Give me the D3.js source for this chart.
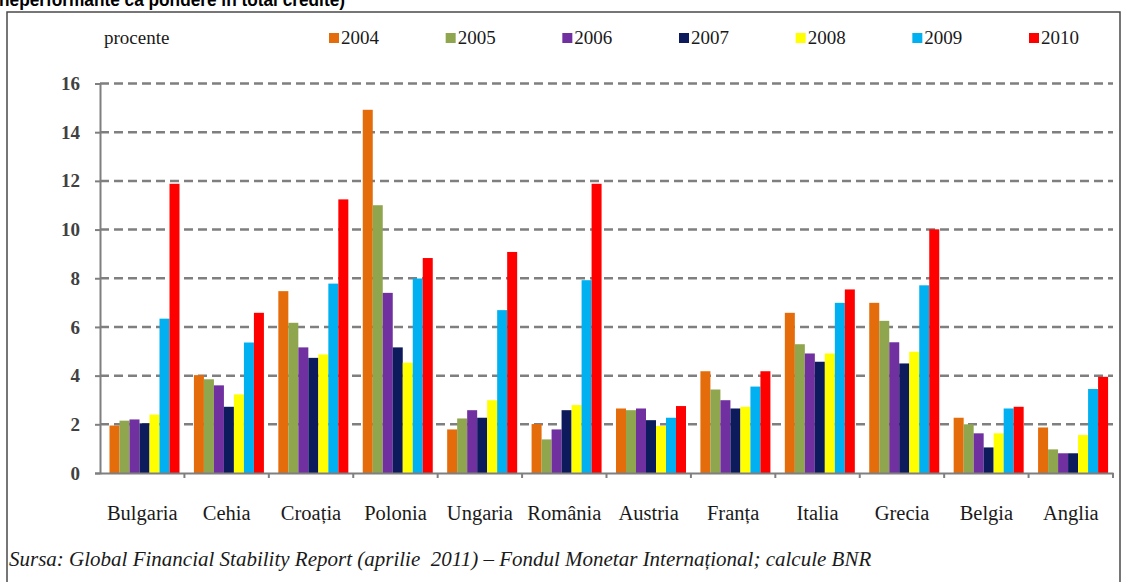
<!DOCTYPE html>
<html>
<head>
<meta charset="utf-8">
<script src="https://cdn.jsdelivr.net/npm/d3@7"></script>
<style>
  body { margin: 0; background: #fff; }
  svg { display: block; }
</style>
</head>
<body>
<div id="chart"></div>
<script>
// tari si ani
var countries = ['Bulgaria', 'Cehia', 'Croația', 'Polonia', 'Ungaria', 'România', 'Austria', 'Franța', 'Italia', 'Grecia', 'Belgia', 'Anglia'];
var years = ['2004', '2005', '2006', '2007', '2008', '2009', '2010'];
var yearColors = ['#e46c0a', '#8fa64f', '#7030a0', '#0d1a5c', '#ffff00', '#00b0f0', '#ff0000'];
var yTicks = [0, 2, 4, 6, 8, 10, 12, 14, 16];

// procente, cate o lista pe an (in ordinea tarilor)
var v2004 = [1.95, 4.02, 7.47, 14.92, 1.79, 2.01, 2.65, 4.18, 6.58, 6.99, 2.27, 1.87];
var v2005 = [2.15, 3.85, 6.17, 11.0, 2.24, 1.38, 2.58, 3.43, 5.29, 6.25, 2.0, 0.97];
var v2006 = [2.2, 3.6, 5.16, 7.4, 2.58, 1.79, 2.65, 2.99, 4.91, 5.37, 1.63, 0.81];
var v2007 = [2.04, 2.72, 4.73, 5.16, 2.27, 2.58, 2.17, 2.65, 4.57, 4.5, 1.05, 0.81];
var v2008 = [2.4, 3.23, 4.87, 4.53, 2.99, 2.79, 1.93, 2.72, 4.91, 4.98, 1.63, 1.56];
var v2009 = [6.34, 5.36, 7.78, 7.99, 6.69, 7.92, 2.27, 3.55, 6.99, 7.71, 2.65, 3.45];
var v2010 = [11.88, 6.58, 11.24, 8.83, 9.08, 11.88, 2.75, 4.18, 7.54, 10.01, 2.72, 3.95];
var series = [v2004, v2005, v2006, v2007, v2008, v2009, v2010];

var titleText = 'neperformante ca pondere în total credite)';
var sourceText = 'Sursa: Global Financial Stability Report (aprilie  2011) – Fondul Monetar Internațional; calcule BNR';

var W = 1125, H = 582;
var plotLeft = 100, plotRight = 1113, plotTop = 83.5, plotBottom = 473;

var svg = d3.select('#chart').append('svg')
  .attr('width', W)
  .attr('height', H);

svg.append('rect').attr('width', W).attr('height', H).attr('fill', '#fff');

// titlul (taiat sus)
svg.append('text')
  .attr('x', -1)
  .attr('y', 6)
  .attr('font-family', 'Liberation Sans, Arial, sans-serif')
  .attr('font-weight', 'bold')
  .attr('font-size', 18)
  .attr('textLength', 346)
  .attr('lengthAdjust', 'spacingAndGlyphs')
  .attr('fill', '#000')
  .text(titleText);

// rama
svg.append('path')
  .attr('d', 'M7,' + (H + 5) + 'V12H1120V' + (H + 5))
  .attr('fill', 'none')
  .attr('stroke', '#4a4a4a')
  .attr('stroke-width', 1.5);

var x = d3.scaleBand().domain(countries).range([plotLeft, plotRight]);
var xInner = d3.scaleBand().domain(years).range([9.5, 79.5]);
var y = d3.scaleLinear().domain([0, 16]).range([plotBottom, plotTop]);

// grila
svg.append('g')
  .selectAll('line')
  .data(yTicks.filter(function(d) { return d > 0; }))
  .enter()
  .append('line')
  .attr('x1', plotLeft)
  .attr('x2', plotRight)
  .attr('y1', function(d) { return y(d); })
  .attr('y2', function(d) { return y(d); })
  .attr('stroke', '#7f7f7f')
  .attr('stroke-width', 2.5)
  .attr('stroke-dasharray', '9,5');

// axa y
var yAxis = svg.append('g')
  .attr('transform', 'translate(' + plotLeft + ',0)')
  .call(d3.axisLeft(y).tickValues(yTicks).tickSize(5).tickPadding(15));
yAxis.select('.domain').attr('stroke', '#7f7f7f').attr('stroke-width', 2);
yAxis.selectAll('.tick line').attr('stroke', '#7f7f7f').attr('stroke-width', 2);
yAxis.selectAll('.tick text')
  .attr('font-family', 'Liberation Serif, Times New Roman, serif')
  .attr('font-weight', 'bold')
  .attr('font-size', 19)
  .attr('fill', '#404040');

// bare
var groups = svg.append('g')
  .selectAll('g')
  .data(countries)
  .enter()
  .append('g')
  .attr('transform', function(d) { return 'translate(' + x(d) + ',0)'; });

groups.selectAll('rect')
  .data(function(c, i) {
    return years.map(function(yr, j) { return { year: yr, value: series[j][i], color: yearColors[j] }; });
  })
  .enter()
  .append('rect')
  .attr('x', function(d) { return xInner(d.year); })
  .attr('width', xInner.bandwidth())
  .attr('y', function(d) { return y(d.value); })
  .attr('height', function(d) { return plotBottom - y(d.value); })
  .attr('fill', function(d) { return d.color; });

// axa x
var xAxis = svg.append('g')
  .attr('transform', 'translate(0,' + plotBottom + ')')
  .call(d3.axisBottom(x).tickSize(0).tickPadding(32));
xAxis.select('.domain').attr('stroke', '#7f7f7f').attr('stroke-width', 2);
xAxis.selectAll('.tick text')
  .attr('font-family', 'Liberation Serif, Times New Roman, serif')
  .attr('font-size', 20.5)
  .attr('fill', '#1a1a1a');
svg.append('g')
  .selectAll('line')
  .data(countries.slice(1).concat(['end']))
  .enter()
  .append('line')
  .attr('x1', function(d) { return d === 'end' ? plotRight : x(d); })
  .attr('x2', function(d) { return d === 'end' ? plotRight : x(d); })
  .attr('y1', plotBottom)
  .attr('y2', plotBottom + 5)
  .attr('stroke', '#7f7f7f')
  .attr('stroke-width', 2);

// "procente"
svg.append('text')
  .attr('x', 104)
  .attr('y', 44)
  .attr('font-family', 'Liberation Serif, Times New Roman, serif')
  .attr('font-size', 19)
  .attr('fill', '#1a1a1a')
  .text('procente');

// legenda
var legendX = d3.scalePoint().domain(years).range([329, 1029]);
var legend = svg.append('g')
  .selectAll('g')
  .data(years)
  .enter()
  .append('g')
  .attr('transform', function(d) { return 'translate(' + legendX(d) + ',0)'; });
legend.append('rect')
  .attr('x', 0)
  .attr('y', 33)
  .attr('width', 10)
  .attr('height', 10)
  .attr('fill', function(d, i) { return yearColors[i]; });
legend.append('text')
  .attr('x', 12)
  .attr('y', 44)
  .attr('font-family', 'Liberation Serif, Times New Roman, serif')
  .attr('font-size', 19)
  .attr('fill', '#1a1a1a')
  .text(function(d) { return d; });

// sursa
svg.append('text')
  .attr('x', 9)
  .attr('y', 566)
  .attr('font-family', 'Liberation Serif, Times New Roman, serif')
  .attr('font-style', 'italic')
  .attr('font-size', 21)
  .attr('fill', '#1a1a1a')
  .style('white-space', 'pre')
  .text(sourceText);
</script>
</body>
</html>
